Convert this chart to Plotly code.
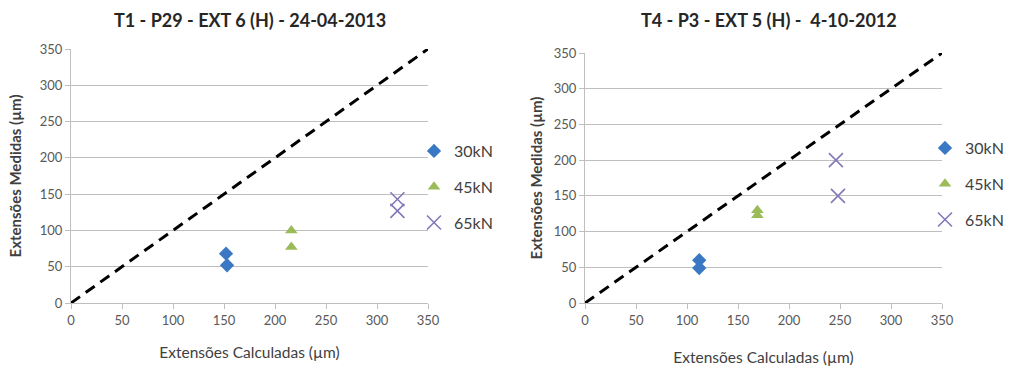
import plotly.graph_objects as go

# ---- data ----
titles = ["T1 - P29 - EXT 6 (H) - 24-04-2013", "T4 - P3 - EXT 5 (H) -  4-10-2012"]
series_names = ["30kN", "45kN", "65kN"]
ticks = [0, 50, 100, 150, 200, 250, 300, 350]

# chart 1
c1_30_x = [152, 153]
c1_30_y = [68, 52]
c1_45_x = [216, 216]
c1_45_y = [100, 77]
c1_65_x = [320, 320]
c1_65_y = [143, 127]

# chart 2
c2_30_x = [112, 112]
c2_30_y = [60, 49]
c2_45_x = [169, 169]
c2_45_y = [130, 123]
c2_65_x = [246, 248]
c2_65_y = [200, 150]

ref_line = [0, 350]

FONT = "Lato"
colors = ["#3B78C4", "#9BBB59", "#8478B8"]
symbols = ["diamond", "triangle-up", "x-thin-open"]
sizes = [11, 11, 14]

W, H = 1010, 366
def px_x(a, b):
    return [a / W, b / W]
def px_y(top, bottom):
    return [(H - bottom) / H, (H - top) / H]

fig = go.Figure()

data = [
    [(c1_30_x, c1_30_y), (c1_45_x, c1_45_y), (c1_65_x, c1_65_y)],
    [(c2_30_x, c2_30_y), (c2_45_x, c2_45_y), (c2_65_x, c2_65_y)],
]

for ci in range(2):
    xa = "x" if ci == 0 else "x2"
    ya = "y" if ci == 0 else "y2"
    leg = "legend" if ci == 0 else "legend2"
    fig.add_trace(go.Scatter(x=ref_line, y=ref_line, mode="lines",
                             line=dict(color="black", width=3, dash="11px,7px"),
                             showlegend=False, xaxis=xa, yaxis=ya, hoverinfo="skip"))
    for si, (xs, ys) in enumerate(data[ci]):
        mk = dict(symbol=symbols[si], size=sizes[si], color=colors[si])
        if symbols[si] == "x-thin-open":
            mk["line"] = dict(color=colors[si], width=1.6)
        fig.add_trace(go.Scatter(x=xs, y=ys, mode="markers", name=series_names[si],
                                 marker=mk, xaxis=xa, yaxis=ya, legend=leg,
                                 legendgroup=f"c{ci}s{si}"))

axis_common = dict(range=[0, 350], tickvals=ticks, showline=True, linecolor="#BFBFBF",
                   linewidth=1, ticks="outside", tickcolor="#BFBFBF", ticklen=5,
                   tickfont=dict(family=FONT, size=13, color="#595959"), zeroline=False,
                   fixedrange=True, automargin=False)

xt_font = dict(family=FONT, size=15.5, color="#404040")
yt_font = dict(family=FONT, size=15, color="#404040")
leg_font = dict(family=FONT, size=16, color="#404040")

fig.update_layout(
    width=W, height=H,
    margin=dict(l=0, r=0, t=0, b=0, autoexpand=False),
    paper_bgcolor="white", plot_bgcolor="white",
    font=dict(family=FONT, color="#404040"),
    xaxis=dict(domain=px_x(71, 428), anchor="y", showgrid=False,
               title=dict(text="Extensões Calculadas (µm)", font=xt_font, standoff=20),
               **axis_common),
    yaxis=dict(domain=px_y(49, 303), anchor="x", showgrid=True, gridcolor="#BFBFBF", gridwidth=1.3,
               title=dict(text="<b>Extensões Medidas (µm)</b>", font=yt_font, standoff=14),
               **axis_common),
    xaxis2=dict(domain=px_x(585, 942), anchor="y2", showgrid=False,
                title=dict(text="Extensões Calculadas (µm)", font=xt_font, standoff=26),
                **axis_common),
    yaxis2=dict(domain=px_y(53, 303), anchor="x2", showgrid=True, gridcolor="#BFBFBF", gridwidth=1.3,
                title=dict(text="<b>Extensões Medidas (µm)</b>", font=yt_font, standoff=7),
                **axis_common),
    legend=dict(x=414 / W, y=(H - 134) / H, xanchor="left", yanchor="top",
                font=leg_font, traceorder="grouped",
                tracegroupgap=12, bgcolor="rgba(0,0,0,0)", itemwidth=30),
    legend2=dict(x=925 / W, y=(H - 131) / H, xanchor="left", yanchor="top",
                 font=leg_font, traceorder="grouped",
                 tracegroupgap=12, bgcolor="rgba(0,0,0,0)", itemwidth=30),
    annotations=[
        dict(text=f"<b>{titles[0]}</b>", x=250 / W, y=(H - 20) / H, xref="paper", yref="paper",
             showarrow=False, font=dict(family=FONT, size=18, color="#262626"), xanchor="center", yanchor="middle"),
        dict(text=f"<b>{titles[1]}</b>", x=769 / W, y=(H - 20) / H, xref="paper", yref="paper",
             showarrow=False, font=dict(family=FONT, size=18, color="#262626"), xanchor="center", yanchor="middle"),
    ],
)

post = (
    "document.body.style.margin='0px';"
    "document.body.style.overflow='hidden';"
)

fig.write_html("out.html", config={"displayModeBar": False}, post_script=post)
